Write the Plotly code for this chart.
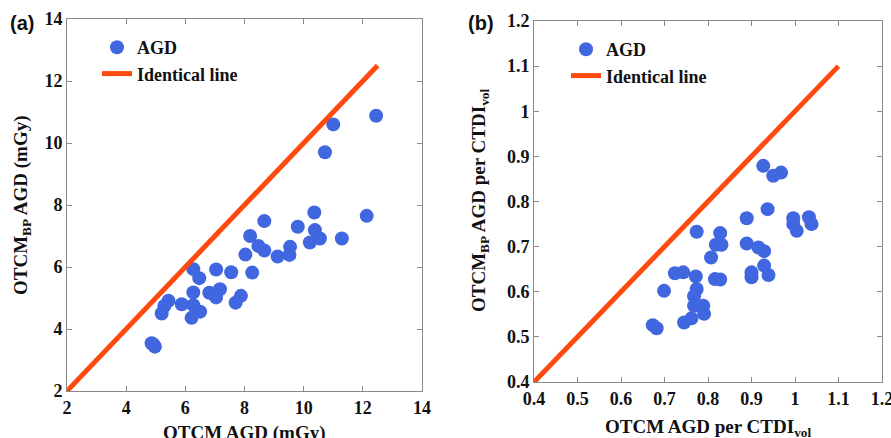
import plotly.graph_objects as go

# Panel (a): absolute glandular dose, OTCM vs OTCM_BP (mGy)
agd_otcm = [11.0, 10.72, 12.45, 10.36, 12.13, 8.67, 9.8, 10.38, 10.55, 10.21, 11.29,
            8.19, 8.47, 8.67, 9.54, 9.52, 9.12, 8.03, 8.26, 7.55, 7.04, 6.27, 6.47,
            6.27, 6.81, 7.17, 7.04, 7.88, 7.7, 5.88, 6.27, 6.5, 6.21, 5.43, 5.29,
            5.2, 4.86, 4.97, 4.92]
agd_otcm_bp = [10.6, 9.7, 10.88, 7.76, 7.65, 7.48, 7.3, 7.19, 6.92, 6.79, 6.92,
               7.0, 6.68, 6.53, 6.65, 6.39, 6.34, 6.4, 5.82, 5.83, 5.92, 5.93, 5.64,
               5.18, 5.17, 5.28, 5.02, 5.07, 4.85, 4.8, 4.77, 4.56, 4.36, 4.91, 4.74,
               4.5, 3.54, 3.43, 3.5]
ident_a = [2, 12.5]

# Panel (b): AGD normalised by CTDIvol
norm_otcm = [0.927, 0.95, 0.968, 0.937, 0.889, 0.996, 1.032, 0.996, 1.004, 1.038,
             0.774, 0.828, 0.818, 0.831, 0.807, 0.889, 0.916, 0.929, 0.929, 0.939,
             0.9, 0.9, 0.816, 0.828, 0.724, 0.743, 0.772, 0.699, 0.774, 0.768,
             0.768, 0.789, 0.791, 0.762, 0.745, 0.673, 0.682]
norm_otcm_bp = [0.879, 0.857, 0.864, 0.783, 0.763, 0.763, 0.765, 0.75, 0.735, 0.75,
                0.733, 0.73, 0.704, 0.704, 0.676, 0.707, 0.698, 0.69, 0.658, 0.637,
                0.643, 0.632, 0.628, 0.627, 0.641, 0.643, 0.634, 0.602, 0.606, 0.59,
                0.569, 0.569, 0.551, 0.541, 0.532, 0.526, 0.519]
ident_b = [0.4, 1.1]

x_ticks_a = [2, 4, 6, 8, 10, 12, 14]
y_ticks_a = [2, 4, 6, 8, 10, 12, 14]
x_ticks_b = [0.4, 0.5, 0.6, 0.7, 0.8, 0.9, 1.0, 1.1, 1.2]
y_ticks_b = [0.4, 0.5, 0.6, 0.7, 0.8, 0.9, 1.0, 1.1, 1.2]
tick_text_b = ["0.4", "0.5", "0.6", "0.7", "0.8", "0.9", "1", "1.1", "1.2"]

BLUE = "#4066E0"
RED = "#FF4A0F"
SERIF = "Liberation Serif"
W, H = 891, 438

fig = go.Figure()
fig.add_trace(go.Scatter(x=agd_otcm, y=agd_otcm_bp, mode="markers", name="AGD",
                         marker=dict(color=BLUE, size=14, line=dict(width=0)),
                         xaxis="x", yaxis="y", legend="legend"))
fig.add_trace(go.Scatter(x=ident_a, y=ident_a, mode="lines", name="Identical line",
                         line=dict(color=RED, width=5),
                         xaxis="x", yaxis="y", legend="legend"))
fig.add_trace(go.Scatter(x=norm_otcm, y=norm_otcm_bp, mode="markers", name="AGD",
                         marker=dict(color=BLUE, size=14, line=dict(width=0)),
                         xaxis="x2", yaxis="y2", legend="legend2"))
fig.add_trace(go.Scatter(x=ident_b, y=ident_b, mode="lines", name="Identical line",
                         line=dict(color=RED, width=5),
                         xaxis="x2", yaxis="y2", legend="legend2"))

tickfont = dict(family=SERIF, size=18, color="#111111", weight="bold")


def ax(domain, rng, ticks, anchor, labels=None):
    return dict(domain=domain, range=rng, tickvals=ticks,
                ticktext=labels if labels else [f"{t:g}" for t in ticks],
                anchor=anchor, showgrid=False, zeroline=False, automargin=False,
                ticklabeloverflow="allow",
                showline=True, linecolor="#8a8a8a", linewidth=1, mirror="ticks",
                ticks="inside", ticklen=5, tickcolor="#8a8a8a", tickfont=tickfont)


def px_x(p):
    return p / W


def px_y(p):
    return 1 - p / H


legend_style = dict(font=dict(family=SERIF, size=18, color="#111111", weight="bold"),
                    bgcolor="rgba(0,0,0,0)", borderwidth=0, tracegroupgap=0,
                    xanchor="left", yanchor="top", itemsizing="trace")

fig.update_layout(
    width=W, height=H, margin=dict(l=0, r=0, t=0, b=0, pad=0, autoexpand=False),
    font=dict(family=SERIF),
    paper_bgcolor="white", plot_bgcolor="white", showlegend=True,
    xaxis=ax([px_x(67), px_x(422)], [2, 14], x_ticks_a, "y"),
    yaxis=ax([px_y(391), px_y(19)], [2, 14], y_ticks_a, "x"),
    xaxis2=ax([px_x(534), px_x(882)], [0.4, 1.2], x_ticks_b, "y2", tick_text_b),
    yaxis2=ax([px_y(382), px_y(21)], [0.4, 1.2], y_ticks_b, "x2", tick_text_b),
    legend=dict(x=px_x(97), y=px_y(29), **legend_style),
    legend2=dict(x=px_x(566), y=px_y(31), **legend_style),
)

title_font = dict(family=SERIF, size=19, color="#111111", weight="bold")
panel_font = dict(family="Liberation Sans", size=20, color="#111111", weight="bold")
annotations = [
    dict(text="OTCM AGD (mGy)", x=px_x(244.5), y=px_y(420), xanchor="center",
         yanchor="top", font=title_font),
    dict(text="OTCM AGD per CTDI<sub>vol</sub>", x=px_x(708), y=px_y(414),
         xanchor="center", yanchor="top", font=title_font),
    dict(text="OTCM<sub>BP</sub> AGD (mGy)", x=px_x(22), y=px_y(205), textangle=-90,
         xanchor="center", yanchor="middle", font=title_font),
    dict(text="OTCM<sub>BP</sub> AGD per CTDI<sub>vol</sub>", x=px_x(480), y=px_y(201),
         textangle=-90, xanchor="center", yanchor="middle", font=title_font),
    dict(text="(a)", x=px_x(8), y=px_y(23), xanchor="left", yanchor="middle",
         font=panel_font),
    dict(text="(b)", x=px_x(466), y=px_y(23), xanchor="left", yanchor="middle",
         font=panel_font),
]
for a in annotations:
    a.update(xref="paper", yref="paper", showarrow=False)
fig.update_layout(annotations=annotations)

fig.write_html("out.html")
